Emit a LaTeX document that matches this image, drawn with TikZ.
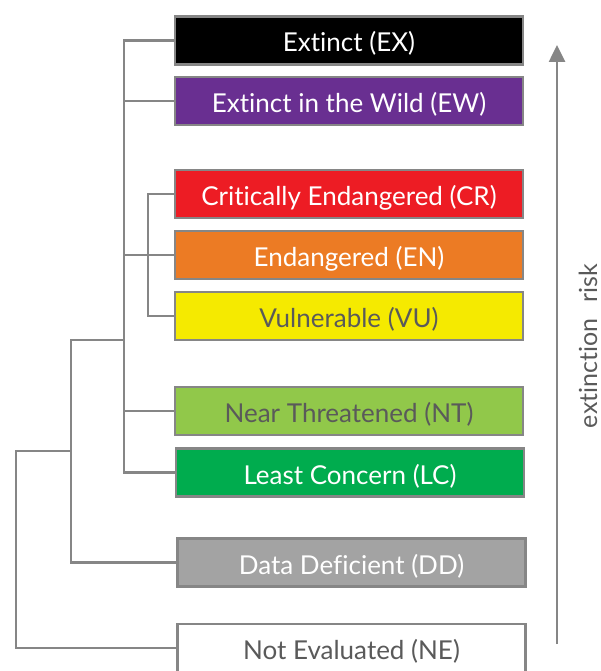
\documentclass[tikz,border=0pt]{standalone}
\usepackage{fontspec}
\setmainfont{Lato}[Ligatures={NoCommon}]
\usetikzlibrary{arrows.meta}
\definecolor{cEW}{HTML}{692F91}
\definecolor{cCR}{HTML}{ED1C24}
\definecolor{cEN}{HTML}{EC7B24}
\definecolor{cVU}{HTML}{F5EA00}
\definecolor{cNT}{HTML}{91C84A}
\definecolor{cLC}{HTML}{00AC4E}
\definecolor{cDD}{HTML}{A3A3A3}
\definecolor{lineg}{HTML}{868686}
\definecolor{textg}{HTML}{5A5A5A}
\begin{document}
\begin{tikzpicture}[x=1pt,y=-1pt,
  cat/.style={draw=lineg, line width=2.6pt, minimum width=348pt, minimum height=48pt,
    inner sep=0pt, text height=23pt, text depth=0pt,
    font=\fontsize{26}{28}\selectfont, text=white},
  darktext/.style={text=textg},
  tree/.style={draw=lineg, line width=2.6pt},
  riskarrow/.style={draw=lineg, line width=2.6pt, -{Triangle[width=16pt,length=17pt]}}]
\useasboundingbox (0,0) rectangle (601,671);
\node[cat, fill=black] (EX) at (349,40.5) {Extinct (EX)};
\node[cat, fill=cEW] (EW) at (349,101) {Extinct in the Wild (EW)};
\node[cat, fill=cCR] (CR) at (349,194) {Critically Endangered (CR)};
\node[cat, fill=cEN] (EN) at (349,255) {Endangered (EN)};
\node[cat, fill=cVU, darktext] (VU) at (349,316) {Vulnerable (VU)};
\node[cat, fill=cNT, darktext] (NT) at (349,411) {Near Threatened (NT)};
\node[cat, fill=cLC] (LC) at (350,472.5) {Least Concern (LC)};
\node[cat, fill=cDD] (DD) at (351.5,562.5) {Data Deficient (DD)};
\node[cat, fill=white, darktext] (NE) at (351.5,648) {Not Evaluated (NE)};
\coordinate (xa) at (124,0);
\coordinate (xb) at (148,0);
\coordinate (xc) at (71,0);
\coordinate (xd) at (16,0);
\coordinate (ja) at (124,340);
\coordinate (jc) at (71,451);
\draw[tree] (EX.west) -- (EX.west -| xa) -- (LC.west -| xa) -- (LC.west);
\draw[tree] (EW.west) -- (EW.west -| xa);
\draw[tree] (NT.west) -- (NT.west -| xa);
\draw[tree] (CR.west) -- (CR.west -| xb) -- (VU.west -| xb) -- (VU.west);
\draw[tree] (EN.west) -- (EN.west -| xa);
\draw[tree] (ja) -- (ja -| xc) -- (DD.west -| xc) -- (DD.west);
\draw[tree] (jc) -- (jc -| xd) -- (NE.west -| xd) -- (NE.west);
\coordinate (arrS) at (557,644);
\coordinate (arrE) at (557,45);
\draw[riskarrow] (arrS) -- (arrE);
\node[rotate=90, text=textg, font=\fontsize{25}{28}\selectfont, inner sep=0pt] (risk) at (588,346) {extinction\hspace{16pt}risk};
\end{tikzpicture}
\end{document}
